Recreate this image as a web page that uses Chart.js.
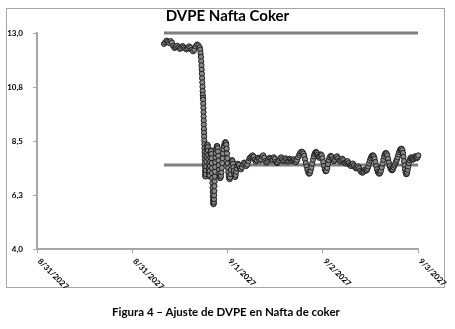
<!DOCTYPE html>
<html>
<head>
<meta charset="utf-8">
<script src="https://cdn.jsdelivr.net/npm/chart.js@4/dist/chart.umd.min.js"></script>
<style>
  html, body { margin: 0; padding: 0; background: #fff; }
  #wrap { position: relative; width: 455px; height: 329px; overflow: hidden; }
  #frame { position: absolute; left: 6px; top: 8px; width: 437px; height: 278px; border: 1px solid #a6a6a6; }
  #chart { position: absolute; left: 0; top: 0; }
  #caption { position: absolute; left: 0; width: 452px; top: 305px; text-align: center;
             font: bold 11.5px Lato, "DejaVu Sans", sans-serif; color: #000; }
</style>
</head>
<body>
<div id="wrap">
  <div id="frame"></div>
  <canvas id="chart" width="455" height="329"></canvas>
  <div id="caption">Figura 4 – Ajuste de DVPE en Nafta de coker</div>
</div>
<script>
const chartTitle = 'DVPE Nafta Coker';
const xTickLabels = ['8/31/2027', '8/31/2027', '9/1/2027', '9/2/2027', '9/3/2027'];
const yTickLabels = ['4,0', '6,3', '8,5', '10,8', '13,0'];
const upperLimit = 13.0;
const lowerLimit = 7.5;
const limitSpanHours = [24, 72];

// [hours since 8/31/2027 00:00, DVPE]
const dvpeReadings = [
  [24.00,12.55],[24.25,12.62],[24.50,12.68],[24.75,12.64],[25.00,12.58],[25.25,12.66],[25.50,12.60],
  [25.75,12.46],[26.00,12.38],[26.25,12.42],[26.50,12.47],[26.75,12.40],[27.00,12.34],[27.25,12.38],
  [27.50,12.45],[27.75,12.41],[28.00,12.36],[28.25,12.32],[28.50,12.37],[28.75,12.44],[29.00,12.39],
  [29.25,12.30],[29.50,12.24],[29.75,12.30],[30.00,12.44],[30.25,12.52],[30.50,12.48],[30.75,12.40],
  // step change
  [30.85,12.30],[30.92,12.15],[30.98,12.00],[31.03,11.82],[31.08,11.65],[31.12,11.47],[31.16,11.30],
  [31.20,11.12],[31.24,10.94],[31.28,10.76],[31.31,10.58],[31.33,10.42],[31.36,10.30],[31.39,10.22],
  [31.42,10.05],[31.45,9.88],[31.47,9.70],[31.49,9.52],[31.51,9.35],[31.53,9.18],[31.55,9.00],
  [31.57,8.84],[31.59,8.68],[31.61,8.52],[31.63,8.36],[31.65,8.20],[31.67,8.04],[31.69,7.88],
  [31.71,7.72],[31.73,7.56],[31.75,7.40],[31.77,7.25],[31.79,7.12],[31.81,7.04],
  // oscillation after the change
  [31.84,7.02],[31.88,7.12],[31.92,7.28],[31.96,7.46],[32.00,7.65],[32.04,7.84],[32.08,8.02],
  [32.12,8.17],[32.16,8.28],[32.20,8.34],[32.24,8.33],[32.28,8.24],[32.32,8.10],[32.36,7.92],
  [32.40,7.72],[32.44,7.50],[32.48,7.30],[32.52,7.12],[32.56,7.02],[32.60,7.08],[32.64,7.25],
  [32.68,7.45],[32.72,7.64],[32.76,7.82],[32.80,7.96],[32.84,8.06],[32.88,8.11],[32.92,8.08],
  [32.96,7.96],[33.00,7.78],[33.03,7.58],[33.06,7.38],[33.09,7.17],[33.12,6.96],[33.15,6.76],
  [33.18,6.56],[33.21,6.38],[33.24,6.20],[33.27,6.05],[33.30,5.94],[33.34,5.87],[33.38,5.88],
  [33.42,5.96],[33.45,6.08],[33.48,6.24],[33.51,6.42],[33.54,6.62],[33.57,6.82],[33.60,7.02],
  [33.63,7.22],[33.66,7.42],[33.70,7.62],[33.74,7.82],[33.79,8.00],[33.85,8.14],[33.92,8.24],
  [34.00,8.29],[34.08,8.28],[34.15,8.20],[34.20,8.06],[34.25,7.88],[34.30,7.68],[34.35,7.48],
  [34.40,7.30],[34.45,7.14],[34.52,7.02],[34.60,6.96],[34.68,6.97],[34.76,7.05],[34.84,7.20],
  [34.92,7.38],[35.00,7.58],[35.08,7.78],[35.16,7.98],[35.24,8.16],[35.34,8.30],[35.46,8.40],
  [35.58,8.45],[35.70,8.43],[35.78,8.34],[35.85,8.18],[35.92,7.98],[35.98,7.78],[36.04,7.57],
  [36.10,7.38],[36.16,7.20],[36.23,7.05],[36.31,6.95],[36.40,6.91],[36.48,6.98],[36.56,7.12],
  [36.64,7.30],[36.72,7.48],[36.80,7.62],[36.88,7.70],[36.96,7.66],[37.04,7.55],[37.12,7.40],
  [37.20,7.25],[37.28,7.12],[37.36,7.03],[37.44,7.00],[37.54,7.08],[37.64,7.22],[37.74,7.36],
  [37.84,7.48],[37.96,7.55],[38.15,7.50],[38.35,7.38],[38.55,7.32],[38.75,7.40],[38.95,7.52],
  [39.15,7.60],[39.35,7.55],[39.55,7.46],[39.75,7.52],[39.95,7.66],[40.15,7.78],[40.35,7.82],
  // settled operation
  [40.55,7.86],[40.75,7.90],[40.95,7.84],[41.15,7.72],[41.35,7.64],[41.55,7.70],[41.75,7.80],
  [41.95,7.76],[42.15,7.68],[42.35,7.74],[42.55,7.86],[42.75,7.90],[42.95,7.80],[43.15,7.66],
  [43.35,7.60],[43.55,7.64],[43.75,7.72],[43.95,7.80],[44.15,7.76],[44.35,7.68],[44.55,7.74],
  [44.75,7.82],[44.95,7.76],[45.15,7.64],[45.35,7.58],[45.55,7.62],[45.75,7.70],[45.95,7.78],
  [46.15,7.82],[46.35,7.74],[46.55,7.66],[46.75,7.70],[46.95,7.78],[47.15,7.72],[47.35,7.64],
  [47.55,7.68],[47.75,7.76],[47.95,7.72],[48.15,7.66],[48.35,7.70],[48.55,7.74],[48.75,7.68],
  [48.95,7.62],[49.15,7.70],[49.35,7.82],[49.55,7.92],[49.75,8.00],[49.95,8.05],[50.15,8.04],
  [50.35,7.98],[50.50,7.88],[50.65,7.74],[50.80,7.58],[50.95,7.44],[51.10,7.30],[51.25,7.20],
  [51.40,7.14],[51.55,7.16],[51.70,7.26],[51.85,7.40],[52.00,7.56],[52.15,7.72],[52.30,7.86],
  [52.45,7.96],[52.60,8.02],[52.75,8.04],[52.90,8.00],[53.05,7.92],[53.20,7.84],[53.35,7.80],
  [53.50,7.86],[53.65,7.94],[53.80,7.90],[53.95,7.78],[54.10,7.62],[54.25,7.46],[54.40,7.32],
  [54.55,7.24],[54.70,7.26],[54.85,7.38],[55.00,7.54],[55.15,7.70],[55.30,7.82],[55.50,7.88],
  [55.70,7.84],[55.90,7.74],[56.10,7.66],[56.30,7.72],[56.50,7.82],[56.70,7.86],[56.90,7.78],
  [57.10,7.68],[57.30,7.64],[57.50,7.70],[57.70,7.76],[57.90,7.70],[58.10,7.60],[58.30,7.56],
  [58.50,7.62],[58.70,7.66],[58.90,7.58],[59.10,7.50],[59.30,7.46],[59.50,7.52],[59.70,7.56],
  [59.90,7.48],[60.10,7.40],[60.30,7.36],[60.50,7.40],[60.70,7.44],[60.90,7.36],[61.10,7.26],
  [61.30,7.20],[61.50,7.18],[61.70,7.22],[61.90,7.30],[62.10,7.26],[62.30,7.28],[62.45,7.34],
  [62.60,7.44],[62.75,7.56],[62.90,7.68],[63.05,7.78],[63.20,7.85],[63.35,7.89],[63.50,7.90],
  [63.65,7.86],[63.80,7.76],[63.95,7.62],[64.10,7.46],[64.25,7.32],[64.40,7.22],[64.55,7.16],
  [64.70,7.14],[64.85,7.17],[65.00,7.26],[65.15,7.40],[65.30,7.56],[65.45,7.72],[65.60,7.86],
  [65.75,7.95],[65.90,8.00],[66.05,7.98],[66.20,7.90],[66.35,7.76],[66.50,7.60],[66.65,7.46],
  [66.80,7.36],[66.95,7.30],[67.10,7.28],[67.25,7.32],[67.40,7.40],[67.55,7.48],[67.70,7.56],
  [67.85,7.64],[68.00,7.72],[68.15,7.82],[68.30,7.94],[68.45,8.04],[68.60,8.12],[68.75,8.16],
  [68.90,8.18],[69.05,8.12],[69.15,8.00],[69.25,7.84],[69.35,7.66],[69.45,7.48],[69.55,7.32],
  [69.65,7.20],[69.75,7.13],[69.85,7.12],[69.95,7.18],[70.05,7.30],[70.15,7.44],[70.25,7.58],
  [70.40,7.70],[70.55,7.78],[70.70,7.82],[70.85,7.78],[71.00,7.72],[71.15,7.74],[71.30,7.80],
  [71.45,7.86],[71.60,7.84],[71.75,7.78],[71.90,7.82],[72.05,7.90]
];

const AXIS_GREY = '#a6a6a6';
const LIMIT_GREY = '#7f7f7f';
const FONT = 'Lato, "DejaVu Sans", sans-serif';

// Title centred over the plot area
const titlePlugin = {
  id: 'plotTitle',
  afterDraw(chart) {
    const { ctx, chartArea } = chart;
    ctx.save();
    ctx.font = 'bold 15px ' + FONT;
    ctx.fillStyle = '#000';
    ctx.textAlign = 'center';
    ctx.textBaseline = 'alphabetic';
    ctx.fillText(chartTitle, (chartArea.left + chartArea.right) / 2, 21);
    ctx.restore();
  }
};

// Date labels slanting down to the right from each tick
const slantedDates = {
  id: 'slantedDates',
  afterDraw(chart) {
    const scale = chart.scales.x;
    const ctx = chart.ctx;
    ctx.save();
    ctx.font = 'bold 8px ' + FONT;
    ctx.fillStyle = '#000';
    ctx.textAlign = 'left';
    ctx.textBaseline = 'middle';
    scale.ticks.forEach((tick, i) => {
      const px = scale.getPixelForValue(tick.value);
      ctx.save();
      ctx.translate(px + 2, scale.top + 11);
      ctx.rotate(Math.PI / 4);
      ctx.fillText(xTickLabels[i] || '', 0, 0);
      ctx.restore();
    });
    ctx.restore();
  }
};

const limitLine = (value, label) => ({
  label,
  data: limitSpanHours.map(h => ({ x: h, y: value })),
  showLine: true,
  borderColor: LIMIT_GREY,
  borderWidth: 3,
  pointRadius: 0,
  clip: false,
  order: 1
});

new Chart(document.getElementById('chart'), {
  type: 'scatter',
  data: {
    datasets: [
      {
        label: 'DVPE',
        data: dvpeReadings.map(([h, v]) => ({ x: h, y: v })),
        pointRadius: 2.6,
        pointBorderWidth: 1,
        pointBackgroundColor: '#8a8a8a',
        pointBorderColor: '#1c1c1c',
        clip: false,
        order: 0
      },
      limitLine(upperLimit, 'Máximo'),
      limitLine(lowerLimit, 'Objetivo')
    ]
  },
  options: {
    responsive: false,
    animation: false,
    events: [],
    layout: { padding: { top: 33, right: 37, left: 0, bottom: 0 } },
    plugins: { legend: { display: false }, tooltip: { enabled: false }, title: { display: false } },
    scales: {
      x: {
        type: 'linear',
        min: 0,
        max: 72,
        afterFit(s) { s.height = 80; },
        afterBuildTicks(s) { s.ticks = [0, 18, 36, 54, 72].map(v => ({ value: v })); },
        ticks: { display: false },
        grid: { display: true, drawOnChartArea: false, drawTicks: true, tickLength: 4, color: AXIS_GREY, lineWidth: 1 },
        border: { display: true, color: AXIS_GREY, width: 2 }
      },
      y: {
        min: 4,
        max: 13,
        afterFit(s) { s.width = 37; },
        ticks: {
          stepSize: 2.25,
          padding: 10,
          color: '#000',
          font: { family: FONT, size: 8, weight: 'bold' },
          callback: (v, i) => yTickLabels[i]
        },
        grid: { display: true, drawOnChartArea: false, drawTicks: true, tickLength: 4, color: AXIS_GREY, lineWidth: 1 },
        border: { display: true, color: AXIS_GREY, width: 2 }
      }
    }
  },
  plugins: [titlePlugin, slantedDates]
});
</script>
</body>
</html>
